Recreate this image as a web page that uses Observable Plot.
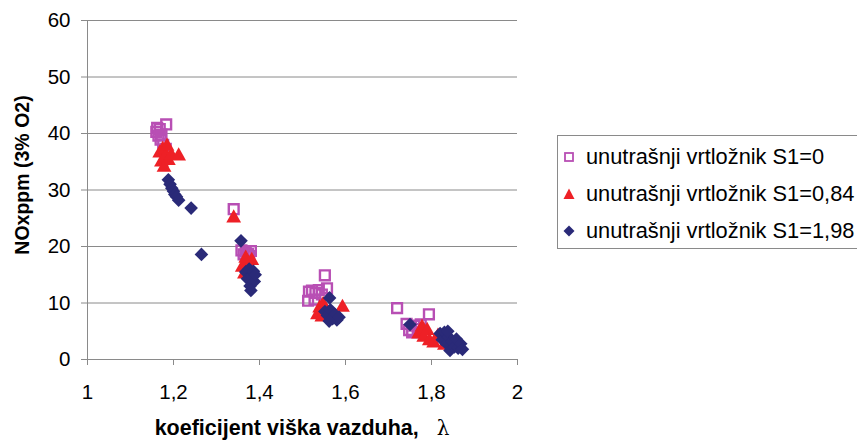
<!DOCTYPE html>
<html>
<head>
<meta charset="utf-8">
<script src="https://cdn.jsdelivr.net/npm/d3@7"></script>
<script src="https://cdn.jsdelivr.net/npm/@observablehq/plot@0.6"></script>
<style>
  html, body { margin: 0; padding: 0; background: #fff; overflow: hidden; }
  #wrap { position: relative; width: 857px; height: 444px; font-family: "Liberation Sans", Arial, sans-serif; color: #000; }
  #chart { position: absolute; left: 0; top: 0; }
  .ytitle { position: absolute; left: 22px; top: 175px; transform: translate(-50%, -50%) rotate(-90deg); font-weight: bold; font-size: 19.5px; white-space: nowrap; }
  .xtitle { position: absolute; left: 302px; top: 439px; transform: translate(-50%, -100%); font-weight: bold; font-size: 21.5px; white-space: nowrap; line-height: 1; }
  .xtitle .lam { font-weight: normal; font-family: "DejaVu Serif", serif; font-size: 20px; }
  #legend { position: absolute; left: 557px; top: 135px; width: 320px; height: 112px; border: 1px solid #8a8a8a; background: #fff; }
  .lrow { position: absolute; left: 0; height: 30px; display: flex; align-items: center; font-size: 21.8px; white-space: nowrap; }
  .lrow svg { margin-left: 5px; margin-right: 11px; }
</style>
</head>
<body>
<div id="wrap">
  <div id="chart"></div>
  <div class="ytitle">NOxppm (3% O2)</div>
  <div class="xtitle">koeficijent viška vazduha,&nbsp;&nbsp;&nbsp;<span class="lam">λ</span></div>
  <div id="legend"></div>
</div>
<script>
// ---- data ----
const seriesNames = ["unutrašnji vrtložnik S1=0", "unutrašnji vrtložnik S1=0,84", "unutrašnji vrtložnik S1=1,98"];
const seriesColors = ["#b84fb4", "#ee2026", "#2a2a78"];

const s0Lambda = [1.160, 1.162, 1.165, 1.168, 1.170, 1.172, 1.176, 1.182, 1.183,
                  1.340, 1.358, 1.363, 1.368, 1.373, 1.380, 1.376,
                  1.513, 1.515, 1.522, 1.530, 1.538, 1.545, 1.557, 1.552, 1.528,
                  1.720, 1.794, 1.742, 1.748, 1.755, 1.760, 1.768, 1.775];
const s0NOx    = [40.3, 41.0, 39.6, 40.8, 38.9, 39.8, 38.0, 37.3, 41.6,
                  26.6, 19.3, 18.6, 19.1, 18.7, 19.2, 18.3,
                  10.4, 12.0, 12.2, 11.8, 12.3, 11.5, 12.6, 14.9, 10.6,
                  9.1, 8.0, 6.3, 5.2, 4.8, 6.0, 5.4, 6.2];

const s84Lambda = [1.168, 1.172, 1.175, 1.178, 1.180, 1.185, 1.188, 1.195, 1.212,
                   1.340, 1.360, 1.365, 1.370, 1.375, 1.382, 1.368,
                   1.535, 1.540, 1.548, 1.555, 1.593, 1.545,
                   1.770, 1.778, 1.782, 1.790, 1.795, 1.805, 1.830, 1.815];
const s84NOx    = [36.8, 35.2, 37.5, 34.3, 36.0, 38.0, 35.5, 36.4, 36.3,
                   25.3, 16.6, 15.4, 17.6, 16.2, 17.8, 18.2,
                   8.2, 9.4, 10.0, 9.0, 9.5, 7.8,
                   4.8, 6.0, 4.2, 5.4, 3.6, 3.2, 2.8, 4.4];

const s198Lambda = [1.188, 1.192, 1.196, 1.200, 1.203, 1.207, 1.212, 1.241, 1.265,
                    1.357, 1.368, 1.372, 1.376, 1.378, 1.382, 1.386, 1.388, 1.380, 1.390,
                    1.552, 1.558, 1.565, 1.570, 1.575, 1.580, 1.585, 1.562, 1.563,
                    1.750, 1.820, 1.825, 1.830, 1.835, 1.840, 1.843, 1.848, 1.853, 1.858, 1.862, 1.868, 1.872, 1.838];
const s198NOx    = [31.8, 31.0, 30.3, 29.8, 29.2, 28.8, 28.2, 26.8, 18.6,
                    21.0, 15.5, 14.3, 16.0, 13.0, 14.8, 15.6, 13.8, 12.2, 15.0,
                    8.5, 7.8, 8.8, 7.2, 8.0, 7.0, 7.5, 6.8, 10.9,
                    6.2, 4.6, 3.5, 4.8, 2.8, 4.0, 1.6, 3.2, 2.2, 3.6, 2.0, 2.8, 1.8, 5.0];

const xTicks = [1, 1.2, 1.4, 1.6, 1.8, 2];
const xTickLabels = ["1", "1,2", "1,4", "1,6", "1,8", "2"];
const yTicks = [0, 10, 20, 30, 40, 50, 60];
const yTickLabels = ["0", "10", "20", "30", "40", "50", "60"];

// ---- build tables ----
const toRows = (xs, ys) => xs.map((x, i) => ({lambda: x, nox: ys[i]}));
const rows0 = toRows(s0Lambda, s0NOx);
const rows84 = toRows(s84Lambda, s84NOx);
const rows198 = toRows(s198Lambda, s198NOx);

// ---- custom symbols (Excel-like markers) ----
const squareSym = { draw(ctx) { const h = 4.9; ctx.moveTo(-h, -h); ctx.lineTo(h, -h); ctx.lineTo(h, h); ctx.lineTo(-h, h); ctx.closePath(); } };
const triSym = { draw(ctx) { ctx.moveTo(0, -7.2); ctx.lineTo(7.4, 6); ctx.lineTo(-7.4, 6); ctx.closePath(); } };
const diaSym = { draw(ctx) { const h = 6.8; ctx.moveTo(0, -h); ctx.lineTo(h, 0); ctx.lineTo(0, h); ctx.lineTo(-h, 0); ctx.closePath(); } };

const gray = "#8a8a8a";

const chart = Plot.plot({
  width: 857,
  height: 444,
  marginLeft: 87,
  marginRight: 340,
  marginTop: 20,
  marginBottom: 85,
  x: {domain: [1, 2]},
  y: {domain: [0, 60]},
  style: {fontFamily: "'Liberation Sans', Arial, sans-serif", fontSize: "20px", color: "#000", background: "transparent"},
  marks: [
    Plot.gridY({ticks: yTicks, stroke: gray, strokeOpacity: 1, strokeWidth: 1}),
    Plot.ruleX([1], {stroke: gray, strokeWidth: 1}),
    Plot.ruleY([0], {stroke: gray, strokeWidth: 1}),
    Plot.axisY({ticks: yTicks, tickSize: 6, tickPadding: 11, stroke: gray, fill: "#000",
      tickFormat: d => yTickLabels[yTicks.indexOf(d)], label: null, fontSize: 20.5}),
    Plot.axisX({ticks: xTicks, tickSize: 6, tickPadding: 19, stroke: gray, fill: "#000",
      tickFormat: d => xTickLabels[xTicks.indexOf(d)], label: null, fontSize: 20.5}),
    Plot.dot(rows0, {x: "lambda", y: "nox", symbol: squareSym, r: 5, stroke: seriesColors[0], strokeWidth: 2.4, fill: "none"}),
    Plot.dot(rows84, {x: "lambda", y: "nox", symbol: triSym, r: 5, fill: seriesColors[1], stroke: "none"}),
    Plot.dot(rows198, {x: "lambda", y: "nox", symbol: diaSym, r: 5, fill: seriesColors[2], stroke: "none"})
  ]
});
document.getElementById("chart").appendChild(chart);

// ---- legend ----
const legend = document.getElementById("legend");
const legendSvgs = [
  `<svg width="12" height="12" viewBox="-6 -6 12 12"><rect x="-4" y="-4" width="8" height="8" fill="none" stroke="${seriesColors[0]}" stroke-width="1.8"/></svg>`,
  `<svg width="12" height="12" viewBox="-6 -6 12 12"><path d="M0,-5.5L5.5,5L-5.5,5Z" fill="${seriesColors[1]}"/></svg>`,
  `<svg width="12" height="12" viewBox="-6 -6 12 12"><path d="M0,-5.5L5.5,0L0,5.5L-5.5,0Z" fill="${seriesColors[2]}"/></svg>`
];
const rowTops = [6, 43, 80];
seriesNames.forEach((name, i) => {
  const row = document.createElement("div");
  row.className = "lrow";
  row.style.top = rowTops[i] + "px";
  row.innerHTML = legendSvgs[i] + `<span>${name}</span>`;
  legend.appendChild(row);
});
</script>
</body>
</html>
